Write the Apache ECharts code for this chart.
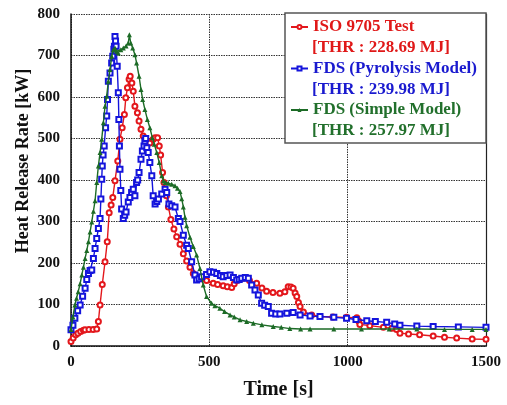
<!DOCTYPE html>
<html><head><meta charset="utf-8">
<script src="https://cdn.jsdelivr.net/npm/echarts@6/dist/echarts.min.js"></script>
<style>html,body{margin:0;padding:0;background:#fff}#c{width:507px;height:405px}</style>
</head><body><div id="c"></div>
<script>
var xTicks = [0, 500, 1000, 1500];
var yTicks = [0, 100, 200, 300, 400, 500, 600, 700, 800];
var seriesNames = ['ISO 9705 Test', 'FDS (Pyrolysis Model)', 'FDS (Simple Model)'];
var thrLabels = ['[THR : 228.69 MJ]', '[THR : 239.98 MJ]', '[THR : 257.97 MJ]'];

var isoTime = [0,8,17,25,35,45,51,65,80,93,99,105,113,123,131,138,145,151,159,169,177,185,193,198,204,210,214,220,225,231,240,246,253,261,274,285,297,304,313,319,324,331,336,345,352,361,372,382,394,406,418,430,442,457,472,490,514,530,550,565,581,590,600,623,645,671,690,707,730,755,773,785,795,803,810,816,822,828,840,870,900,947,996,1033,1040,1044,1080,1129,1160,1177,1189,1220,1260,1309,1350,1394,1450,1500];
var isoHrr  = [11,19,27,31,35,38,39,40,40,41,59,99,148,203,251,321,340,358,398,446,498,526,558,598,622,643,650,634,614,578,562,542,522,506,494,489,498,502,502,482,460,418,394,362,335,305,282,263,245,222,205,190,175,165,162,158,151,148,145,143,141,150,158,163,158,151,140,132,129,127,131,143,142,139,128,119,105,95,82,75,71,70,69,68,60,52,49,45,43,40,31,29,27,24,21,19,17,16];

var pyroTime = [0,7,14,24,33,42,51,57,63,69,75,81,87,93,99,105,108,111,113,116,120,125,129,132,135,141,147,151,155,157,159,161,163,167,171,173,175,177,180,183,189,194,199,207,213,219,225,231,237,241,246,253,258,264,267,270,274,279,285,292,297,304,310,316,328,340,346,354,364,376,388,394,406,418,424,436,448,454,463,472,490,502,515,527,540,550,563,575,587,599,608,617,630,641,653,665,677,689,700,713,725,740,755,780,803,828,864,900,950,996,1030,1069,1100,1141,1170,1189,1250,1309,1400,1500];
var pyroHrr  = [39,50,67,85,99,120,139,160,175,182,183,211,235,259,283,307,354,402,434,460,482,526,554,594,638,658,682,698,715,722,746,735,722,674,610,546,482,426,375,330,307,315,323,347,358,370,378,362,394,400,418,450,470,482,494,500,478,466,442,410,362,342,348,354,366,378,370,342,338,335,307,300,267,243,235,203,171,159,162,167,172,179,178,175,170,167,170,171,165,159,160,163,165,163,147,135,123,103,98,95,79,77,77,79,81,75,72,71,69,67,64,61,59,57,53,50,48,47,46,45];

var simpleTime = [0,7,14,20,26,33,39,45,51,57,63,69,75,81,87,93,99,105,111,117,123,129,135,141,147,153,159,165,171,180,189,199,207,211,216,223,231,237,246,253,259,267,276,285,294,301,310,319,328,334,340,352,364,376,385,394,400,406,412,418,430,442,454,466,478,490,508,520,538,555,575,590,611,635,659,690,731,760,791,830,864,950,1050,1150,1250,1350,1450,1500];
var simpleHrr  = [40,70,99,115,131,150,171,190,211,230,251,275,299,325,350,394,434,466,498,538,578,602,638,666,698,714,718,710,706,714,718,723,730,750,730,718,702,682,650,618,594,570,546,526,502,486,466,442,410,398,394,392,390,386,380,372,355,335,310,290,262,240,219,187,147,119,103,97,91,83,75,70,63,59,55,51,47,45,42,41,41,41,41,41,41,40,40,40];

function pairs(t, v) { return t.map(function (x, i) { return [x, v[i]]; }); }

var colors = ['#e3171c', '#1414dc', '#1c6b26'];
var textColors = ['#e01818', '#1a1acf', '#22702c'];
var font = 'Liberation Serif';

var thrGraphics = thrLabels.map(function (t, i) {
  return {
    type: 'text', z: 11, x: 312, y: 48 + 41.5 * i,
    style: {text: t, fill: textColors[i], font: 'bold 17px "Liberation Serif"',
      align: 'left', verticalAlign: 'middle'}
  };
});

var chart = echarts.init(document.getElementById('c'), null, {renderer: 'canvas'});
var option = {
  animation: false,
  backgroundColor: '#fff',
  grid: {left: 71, right: 21, top: 14, bottom: 57, containLabel: false},
  xAxis: {
    type: 'value', min: 0, max: 1500, interval: 500,
    axisLine: {show: true, onZero: false, lineStyle: {color: '#111', width: 1.5}},
    axisTick: {show: false},
    axisLabel: {color: '#111', fontFamily: font, fontWeight: 'bold', fontSize: 15, margin: 9,
      formatter: function (v) { return xTicks.indexOf(v) >= 0 ? String(v) : ''; }},
    splitLine: {show: true, lineStyle: {color: '#333', type: [1.5, 1], width: 1}},
    name: 'Time [s]', nameLocation: 'middle', nameGap: 34,
    nameTextStyle: {color: '#111', fontFamily: font, fontWeight: 'bold', fontSize: 20}
  },
  yAxis: [{
    type: 'value', min: 0, max: 800, interval: 100,
    axisLine: {show: true, lineStyle: {color: '#111', width: 1.5}},
    axisTick: {show: false},
    axisLabel: {color: '#111', fontFamily: font, fontWeight: 'bold', fontSize: 15, margin: 11,
      formatter: function (v) { return yTicks.indexOf(v) >= 0 ? String(v) : ''; }},
    splitLine: {show: true, lineStyle: {color: '#333', type: [1.5, 1], width: 1}}
  }, {
    type: 'value', min: 0, max: 800, interval: 100, position: 'right',
    axisLine: {show: true, lineStyle: {color: '#222', width: 1.2}},
    axisTick: {show: false}, axisLabel: {show: false}, splitLine: {show: false}
  }],
  legend: {
    orient: 'vertical', left: 290, top: 16.5, padding: 0,
    itemWidth: 17, itemHeight: 5, itemGap: 20.5,
    data: seriesNames.map(function (n, i) {
      return {name: n, textStyle: {color: textColors[i]}};
    }),
    textStyle: {fontFamily: font, fontWeight: 'bold', fontSize: 17, lineHeight: 21},
    z: 10
  },
  graphic: [{
    type: 'rect', z: 8, shape: {x: 285, y: 13, width: 201, height: 130},
    style: {fill: '#fff', stroke: '#555', lineWidth: 1.5}
  }, {
    type: 'text', z: 9, x: 23, y: 161, rotation: Math.PI / 2,
    style: {text: 'Heat Release Rate [kW]', fill: '#111', font: 'bold 18px "Liberation Serif"',
      align: 'center', verticalAlign: 'middle'}
  }].concat(thrGraphics),
  series: [{
    name: seriesNames[0], type: 'line', data: pairs(isoTime, isoHrr),
    symbol: 'emptyCircle', symbolSize: 5, showAllSymbol: true,
    lineStyle: {color: colors[0], width: 1.4}, itemStyle: {color: colors[0], borderWidth: 1.2}, z: 3
  }, {
    name: seriesNames[1], type: 'line', data: pairs(pyroTime, pyroHrr),
    symbol: 'emptyRect', symbolSize: 5, showAllSymbol: true,
    lineStyle: {color: colors[1], width: 1.4}, itemStyle: {color: colors[1], borderWidth: 1.2}, z: 4
  }, {
    name: seriesNames[2], type: 'line', data: pairs(simpleTime, simpleHrr),
    symbol: 'triangle', symbolSize: 5, showAllSymbol: true,
    lineStyle: {color: colors[2], width: 1.4}, itemStyle: {color: colors[2]}, z: 5
  }]
};
chart.setOption(option);
</script></body></html>
